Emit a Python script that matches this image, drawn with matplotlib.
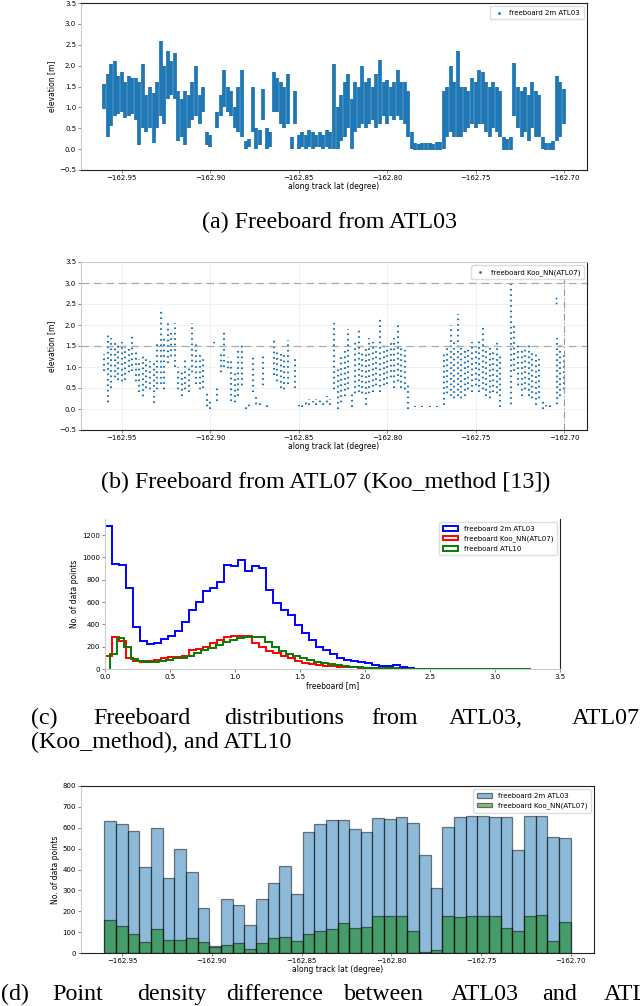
import numpy as np
import matplotlib.pyplot as plt
from matplotlib.lines import Line2D

# ── Data ──────────────────────────────────────────────────────────────────
# along-track latitude columns for the freeboard profiles (panels a, b)
LAT_START = -162.960
LAT_STEP = 0.002
N_COLS = 131

# (a) ATL03 2 m freeboard: lower / upper elevation per column [m]
ATL03_LO = [0.95, 0.3, 0.55, 0.8, 0.85, 0.9, 0.75, 0.8, 0.85, 0.7,
            0.1, 0.5, 0.4, 0.5, 0.15, 0.5, 0.8, 0.6, 1.2, 1.3,
            1.2, 0.2, 0.3, 0.1, 0.5, 0.7, 0.8, 0.6, 0.9, 0.1,
            0.05, None, 0.5, 0.8, 1.0, 0.9, 0.8, 0.5, 0.4, 0.3,
            0.0, 0.05, 0.4, 0.0, 0.1, 0.7, 0.0, 0.05, 0.9, 0.9,
            0.6, 0.5, 0.6, 0.0, 0.6, 0.0, 0.05, 0.0, 0.05, 0.0,
            0.05, 0.05, 0.0, 0.05, 0.0, 0.0, 0.0, 0.2, 0.3, 0.5,
            0.0, 0.4, 0.5, 0.6, 0.5, 0.6, 0.7, 0.5, 0.6, 0.8,
            0.6, 0.8, 0.7, 0.8, 0.7, 0.6, 0.3, 0.0, -0.03, -0.03,
            -0.03, -0.03, -0.03, -0.02, -0.03, -0.03, 0.0, 0.3, 0.4, 0.3,
            0.3, 0.3, 0.4, 0.5, 0.6, 0.5, 0.6, 0.6, 0.4, 0.3,
            0.5, 0.4, 0.3, -0.03, -0.03, -0.03, 0.8, 0.5, 0.3, 0.4,
            0.2, 0.5, 0.3, 0.3, 0.0, -0.03, -0.03, -0.03, 0.2, 0.3,
            0.6]
ATL03_HI = [1.55, 1.8, 2.05, 2.1, 1.75, 1.85, 1.6, 1.75, 1.7, 1.7,
            1.6, 2.05, 1.3, 1.5, 1.35, 1.6, 2.6, 2.0, 2.35, 2.1,
            2.3, 1.4, 1.2, 1.4, 1.3, 1.6, 1.98, 1.3, 1.5, 0.4,
            0.35, None, 0.9, 1.3, 1.9, 1.5, 1.4, 1.0, 1.5, 1.9,
            0.2, 0.25, 1.5, 0.5, 0.45, 1.45, 0.5, 0.4, 1.85, 1.7,
            1.6, 1.5, 1.8, 0.3, 1.4, 0.35, 0.4, 0.35, 0.45, 0.4,
            0.35, 0.4, 0.35, 0.45, 0.4, 2.05, 1.0, 1.3, 1.6, 1.8,
            1.2, 1.6, 1.5, 2.0, 1.6, 1.7, 1.5, 1.8, 2.14, 1.6,
            1.65, 1.5, 1.6, 1.9, 1.6, 1.6, 1.4, 0.4, 0.15, 0.12,
            0.15, 0.14, 0.15, 0.13, 0.16, 0.17, 1.4, 1.5, 2.0, 1.6,
            2.35, 1.5, 1.5, 1.4, 1.7, 1.6, 1.9, 1.85, 1.6, 1.5,
            1.6, 1.5, 1.4, 0.3, 0.25, 0.3, 2.07, 1.5, 1.4, 1.5,
            1.3, 1.6, 1.4, 1.3, 0.3, 0.15, 0.15, 0.2, 1.75, 1.6,
            1.45]

# (b) ATL07 Koo_NN freeboard: lower / upper elevation per column [m]
ATL07_LO = [0.9, 0.1, 0.5, 0.7, 0.7, 0.6, 0.7, 0.8, 0.9, 0.6,
            0.4, 0.25, 0.5, 0.4, 0.15, 0.4, 0.6, 0.4, 1.1, 1.2,
            1.0, 0.4, 0.3, 0.4, 0.4, 0.8, 0.6, 0.4, 0.5, 0.0,
            0.0, 1.5, 0.2, 0.8, 1.0, 0.9, 0.2, 0.1, 0.3, 0.5,
            0.0, 0.0, 0.4, 0.05, 0.1, 0.5, 0.05, 0.05, 0.8, 0.6,
            0.5, 0.4, 0.6, 0.0, 0.5, 0.0, 0.05, 0.05, 0.1, 0.1,
            0.1, 0.1, 0.1, 0.1, 0.1, 0.4, 0.0, 0.1, 0.3, 0.4,
            0.05, 0.3, 0.4, 0.3, 0.1, 0.3, 0.4, 0.5, 0.4, 0.5,
            0.6, 0.7, 0.5, 0.6, 0.5, 0.4, 0.0, 0.04, 0.04, 0.04,
            0.04, 0.04, 0.04, 0.04, 0.04, 0.04, 0.1, 0.3, 0.3, 0.2,
            0.3, 0.2, 0.3, 0.4, 0.4, 0.5, 0.4, 0.4, 0.3, 0.2,
            0.4, 0.3, 0.05, None, None, 0.05, 0.9, 0.5, 0.3, 0.4,
            0.3, 0.2, 0.1, 0.2, 0.0, 0.0, 0.05, None, 0.05, 0.3,
            0.4]
ATL07_HI = [1.3, 1.8, 1.7, 1.6, 1.55, 1.6, 1.55, 1.5, 1.8, 1.4,
            1.2, 1.3, 1.2, 1.15, 1.1, 1.6, 2.4, 1.7, 2.1, 1.9,
            2.05, 1.0, 0.9, 1.2, 1.0, 2.05, 1.6, 1.3, 1.2, 0.4,
            0.2, 1.6, 0.5, 1.3, 1.85, 1.25, 1.2, 0.9, 1.4, 1.55,
            0.1, 0.2, 1.3, 0.3, 0.2, 1.3, 0.15, 0.1, 1.67, 1.4,
            1.3, 1.35, 1.65, 0.05, 1.2, 0.1, 0.15, 0.25, 0.25, 0.2,
            0.25, 0.25, 0.2, 0.3, 0.25, 2.05, 1.0, 1.3, 1.4, 1.9,
            0.4, 1.6, 1.95, 1.4, 1.5, 1.7, 1.6, 1.5, 2.15, 1.6,
            1.5, 1.6, 1.7, 2.0, 1.5, 1.4, 0.6, 0.06, 0.06, 0.06,
            0.06, 0.06, 0.06, 0.06, 0.06, 0.06, 1.3, 1.5, 2.0, 1.6,
            2.26, 1.5, 1.4, 1.5, 1.6, 1.5, 1.7, 2.0, 1.5, 1.5,
            1.4, 1.6, 1.3, None, None, 3.0, 2.0, 1.6, 1.4, 1.5,
            1.6, 1.4, 1.3, 1.2, 0.2, 0.1, 0.15, None, 1.7, 1.6,
            1.3]
ATL07_OUT_LAT = [-162.7044, -162.7044]
ATL07_OUT_ELEV = [2.52, 2.65]
REF_LINES_B = [3.0, 1.5]

# (c) freeboard histograms (bin width 0.054 m, own start per product)
HIST_BIN_W = 0.054
ATL03_HIST_START = -0.054
ATL03_HIST = [600, 1280, 940, 930, 730, 380, 250, 220, 230, 270,
              300, 340, 420, 530, 600, 700, 730, 780, 930, 920,
              975, 880, 920, 905, 710, 590, 530, 480, 390, 320,
              260, 200, 170, 130, 100, 80, 70, 60, 50, 40,
              30, 25, 40, 20, 10, 3]
ATL07_HIST_START = 0.0
ATL07_HIST = [120, 285, 250, 100, 75, 65, 70, 80, 95, 105,
              110, 120, 170, 180, 200, 230, 260, 285, 295, 300,
              300, 235, 195, 165, 140, 115, 95, 75, 55, 45,
              35, 30, 25, 20, 18, 15, 12, 10, 8, 6,
              5, 4, 3, 2, 1]
ATL10_HIST_START = 0.04
ATL10_HIST = [130, 280, 200, 90, 75, 65, 60, 70, 85, 95,
              100, 115, 145, 170, 190, 215, 240, 260, 275, 285,
              285, 285, 240, 195, 160, 135, 115, 95, 80, 65,
              55, 45, 35, 28, 20, 15, 12, 10, 8, 6,
              5, 4, 3, 3, 2, 2, 2, 1, 1, 1,
              1, 1, 1, 1, 1, 1, 1, 1, 1, 1]

# (d) point counts per along-track bin
DENS_START = -162.960
DENS_BIN_W = 0.0065
DENS_ATL03 = [630, 620, 585, 412, 597, 358, 500, 390, 215, 35,
              258, 232, 135, 258, 335, 418, 285, 580, 620, 635,
              635, 595, 578, 645, 640, 650, 625, 470, 310, 605,
              652, 655, 655, 652, 652, 492, 655, 655, 555, 550]
DENS_ATL07 = [160, 130, 90, 55, 117, 63, 63, 70, 55, 28,
              40, 50, 20, 48, 70, 78, 58, 93, 103, 113,
              143, 120, 125, 178, 178, 175, 105, 5, 15, 175,
              173, 178, 178, 178, 120, 103, 178, 182, 58, 150]

LAT_TICKS = [-162.95, -162.90, -162.85, -162.80, -162.75, -162.70]

# ── Figure helpers ────────────────────────────────────────────────────────
W, H = 640, 1006
fig = plt.figure(figsize=(W / 100, H / 100), dpi=100)
plt.rcParams['font.family'] = 'DejaVu Sans'
TICK_FS = 5
LABEL_FS = 5.5
CAP_FONT = 'Liberation Serif'
CAP_FS = 17.3
BLUE = '#1f77b4'


def px_axes(left, top, right, bottom):
    return fig.add_axes([left / W, 1 - bottom / H, (right - left) / W, (bottom - top) / H])


def style_spines(ax, light=('left',), hidden=()):
    for name, sp in ax.spines.items():
        sp.set_color('#cccccc' if name in light else '#222222')
        sp.set_linewidth(0.8)
        if name in hidden:
            sp.set_visible(False)
    ax.tick_params(labelsize=TICK_FS, length=2, width=0.5, pad=1.5, color='#555555')


def caption(x, y, s, ha='center'):
    fig.text(x / W, 1 - y / H, s, ha=ha, va='baseline', family=CAP_FONT, fontsize=CAP_FS)


def col_arrays(lo, hi):
    lat = LAT_START + LAT_STEP * np.arange(N_COLS)
    lo = np.array([np.nan if v is None else v for v in lo], dtype=float)
    hi = np.array([np.nan if v is None else v for v in hi], dtype=float)
    ok = ~np.isnan(lo)
    return lat[ok], lo[ok], hi[ok]


def lat_axis(ax):
    ax.set_xticks(LAT_TICKS)
    ax.set_xlabel('along track lat (degree)', fontsize=LABEL_FS, labelpad=1)


# ── (a) freeboard from ATL03 ──────────────────────────────────────────────
ax = px_axes(81, 3, 587, 170)
x, lo, hi = col_arrays(ATL03_LO, ATL03_HI)
ax.vlines(x, lo, hi, color=BLUE, lw=2.7)
ax.set_ylim(-0.5, 3.5)
ax.set_yticks(np.arange(-0.5, 3.51, 0.5))
ax.set_ylabel('elevation [m]', fontsize=LABEL_FS, labelpad=2)
lat_axis(ax)
style_spines(ax)
ax.legend([Line2D([], [], ls='none', marker='.', ms=2, color=BLUE)],
          ['freeboard 2m ATL03'], loc='upper right', fontsize=5, handlelength=1.5,
          borderpad=0.5, framealpha=1, edgecolor='#dddddd')
caption(330, 228, '(a) Freeboard from ATL03')

# ── (b) freeboard from ATL07 (Koo) ────────────────────────────────────────
ax = px_axes(81, 262, 587, 430)
ax.grid(True, color='#eeeeee', lw=0.6)
ax.set_axisbelow(True)
x, lo, hi = col_arrays(ATL07_LO, ATL07_HI)
dot_styles = [(0, (0.8, 1.8)), (1.3, (0.8, 1.8))] * (len(x) // 2 + 1)
ax.vlines(x, lo, hi, color=BLUE, lw=1.5, linestyles=dot_styles[:len(x)])
ax.scatter(ATL07_OUT_LAT, ATL07_OUT_ELEV, s=2, color=BLUE, lw=0)
for yv in REF_LINES_B:
    ax.axhline(yv, color='#aaaaaa', lw=0.9, ls=(0, (6, 4)))
ax.axvline(LAT_TICKS[-1], color='#999999', lw=0.8, ls=(0, (6, 2, 1, 2)))
ax.set_ylim(-0.5, 3.5)
ax.set_yticks(np.arange(-0.5, 3.51, 0.5))
ax.set_ylabel('elevation [m]', fontsize=LABEL_FS, labelpad=2)
lat_axis(ax)
style_spines(ax, light=('left', 'top'))
ax.legend([Line2D([], [], ls='none', marker='.', ms=2, color=BLUE)],
          ['freeboard Koo_NN(ATL07)'], loc='upper right', fontsize=5, handlelength=1.5,
          borderpad=0.5, framealpha=1, edgecolor='#dddddd')
caption(326, 488, '(b) Freeboard from ATL07 (Koo_method [13])')

# ── (c) freeboard distributions ───────────────────────────────────────────
ax = px_axes(105, 519, 560, 669)
for start, counts, color, label in [
        (ATL03_HIST_START, ATL03_HIST, 'blue', 'freeboard 2m ATL03'),
        (ATL07_HIST_START, ATL07_HIST, 'red', 'freeboard Koo_NN(ATL07)'),
        (ATL10_HIST_START, ATL10_HIST, 'green', 'freeboard ATL10')]:
    edges = start + HIST_BIN_W * np.arange(len(counts) + 1)
    ax.hist(edges[:-1], bins=edges, weights=counts, histtype='step',
            color=color, lw=1.4, label=label)
ax.set_xlim(0, 3.5)
ax.set_xticks(np.arange(0, 3.51, 0.5))
ax.set_yticks(np.arange(0, 1201, 200))
ax.set_xlabel('freeboard [m]', fontsize=LABEL_FS, labelpad=1)
ax.set_ylabel('No. of data points', fontsize=LABEL_FS, labelpad=2)
style_spines(ax, light=('left', 'bottom'), hidden=('top',))
ax.legend(loc='upper right', fontsize=5, framealpha=1, edgecolor='#dddddd',
          handlelength=2.2, borderpad=0.5)
for word, xpos in [('(c)', 31), ('Freeboard', 93), ('distributions', 224),
                   ('from', 371), ('ATL03,', 449)]:
    caption(xpos, 724, word, ha='left')
caption(640, 724, 'ATL07', ha='right')
caption(31, 748, '(Koo_method), and ATL10', ha='left')

# ── (d) point density difference ──────────────────────────────────────────
ax = px_axes(81, 786, 594, 953)
edges = DENS_START + DENS_BIN_W * np.arange(len(DENS_ATL03))
ax.bar(edges, DENS_ATL03, width=DENS_BIN_W, align='edge', color=BLUE, alpha=0.5,
       edgecolor='black', lw=0.9, label='freeboard 2m ATL03')
ax.bar(edges, DENS_ATL07, width=DENS_BIN_W, align='edge', color='green', alpha=0.5,
       edgecolor='black', lw=0.9, label='freeboard Koo_NN(ATL07)')
ax.set_ylim(0, 800)
ax.set_yticks(np.arange(0, 801, 100))
ax.set_ylabel('No. of data points', fontsize=LABEL_FS, labelpad=2)
lat_axis(ax)
style_spines(ax)
ax.legend(loc='upper right', fontsize=5, framealpha=1, edgecolor='#dddddd',
          handlelength=2.2, borderpad=0.5)
for word, xpos in [('(d)', 1), ('Point', 52), ('density', 137), ('difference', 226),
                   ('between', 344), ('ATL03', 451), ('and', 542), ('ATL07', 604)]:
    caption(xpos, 1000, word, ha='left')

fig.savefig('out.png', dpi=100)
